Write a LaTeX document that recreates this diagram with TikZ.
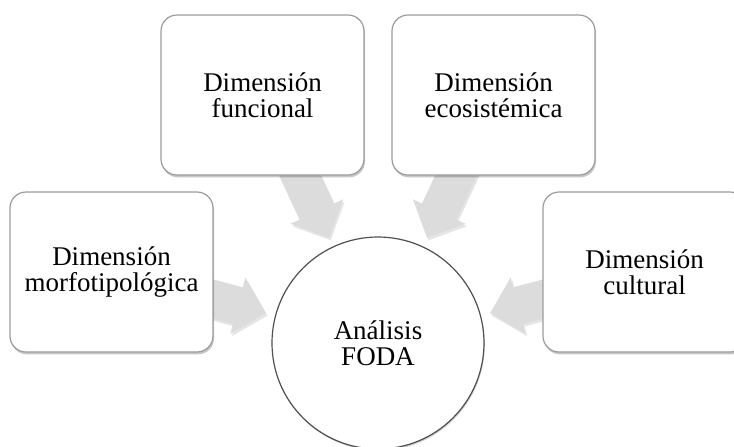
\documentclass[tikz,border=0pt]{standalone}
\usepackage{fontspec}
\setmainfont{Liberation Serif}
\usetikzlibrary{calc,shadows,backgrounds}
\definecolor{boxline}{HTML}{9C9C9C}
\definecolor{circline}{HTML}{505050}
\definecolor{arrowfill}{HTML}{DCDCDC}
\begin{document}
\begin{tikzpicture}[x=0.5pt,y=-0.5pt,
  txt/.style={align=center, font=\fontsize{13.5}{12.9}\selectfont},
  dimbox/.style={txt, draw=boxline, line width=0.6pt, fill=white, rounded corners=8pt,
    minimum width=101.5pt, minimum height=80pt,
    drop shadow={shadow xshift=0.5pt, shadow yshift=-1.2pt, fill=black, opacity=0.22}},
  center/.style={txt, circle, draw=circline, line width=0.6pt, fill=white, minimum size=106pt,
    drop shadow={shadow xshift=0.4pt, shadow yshift=-0.8pt, fill=black, opacity=0.18}},
  blockarrow/.style={fill=arrowfill, draw=none,
    drop shadow={shadow xshift=0.8pt, shadow yshift=-1.2pt, fill=black, opacity=0.10}}]
\useasboundingbox (0,0) rectangle (734,446);
\clip (0,0) rectangle (734,446);
\node[dimbox] (fu) at (262.5,95) {Dimensión\\funcional};
\node[dimbox] (ec) at (493.5,95) {Dimensión\\ecosistémica};
\node[dimbox] (mf) at (111.5,272) {Dimensión\\morfotipológica};
\node[dimbox] (cu) at (644.5,272) {Dimensión\\cultural};
\node[center] (c) at (378,343) {Análisis\\FODA};
\begin{pgfonlayer}{background}
\foreach \b in {fu,ec,mf,cu}{
  \coordinate (T\b) at ($(c)!58pt!(\b)$);
  \coordinate (H\b) at ($(c)!72.5pt!(\b)$);
  \path[blockarrow] ($(\b)!9.5pt!90:(c)$) -- ($(H\b)!9.5pt!-90:(\b)$)
    -- ($(H\b)!14.5pt!-90:(\b)$) -- (T\b) -- ($(H\b)!14.5pt!90:(\b)$)
    -- ($(H\b)!9.5pt!90:(\b)$) -- ($(\b)!9.5pt!-90:(c)$) -- cycle;
}
\end{pgfonlayer}
\end{tikzpicture}
\end{document}
